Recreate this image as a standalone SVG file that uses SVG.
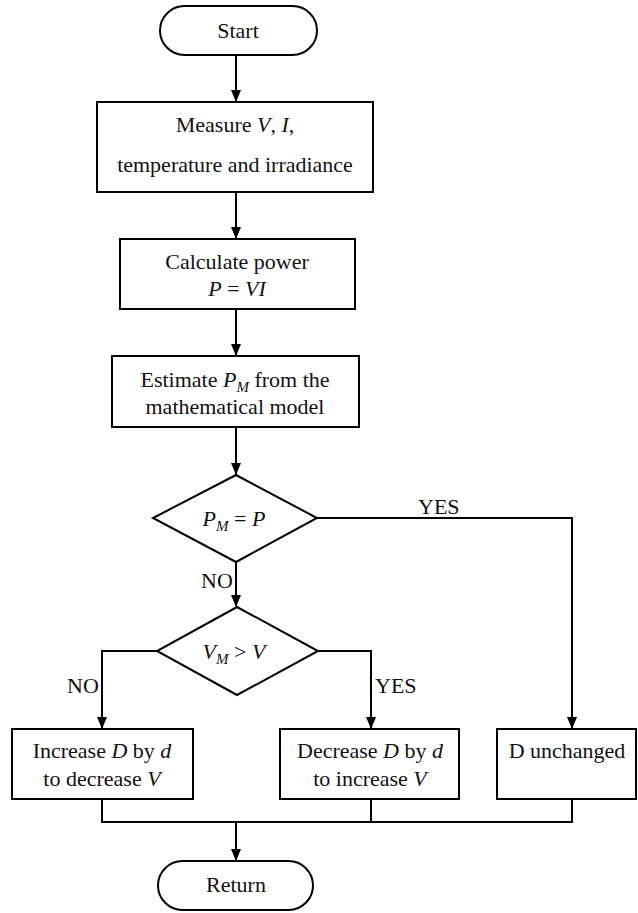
<svg xmlns="http://www.w3.org/2000/svg" width="638" height="913" viewBox="0 0 638 913">
<defs>
<marker id="ah" markerWidth="12" markerHeight="12" viewBox="0 0 12 12" refX="11" refY="6" orient="auto" markerUnits="userSpaceOnUse">
<path d="M0,1 L12,6 L0,11 Z" fill="#000"/>
</marker>
</defs>
<style>
.s{fill:#fff;stroke:#000;stroke-width:2}
.c{fill:none;stroke:#000;stroke-width:2}
text{font-family:'Liberation Serif','Times New Roman','DejaVu Serif',serif;font-size:22px;fill:#111}
.m{text-anchor:middle}
.i{font-style:italic}
.sub{font-style:italic;font-size:15px}
</style>
<rect width="638" height="913" fill="#fff"/>
<g id="connectors">
<path class="c" d="M236,55 V101" marker-end="url(#ah)"/>
<path class="c" d="M236,192 V238" marker-end="url(#ah)"/>
<path class="c" d="M236,309 V355" marker-end="url(#ah)"/>
<path class="c" d="M236,427 V474" marker-end="url(#ah)"/>
<path class="c" d="M236,562 V606" marker-end="url(#ah)"/>
<path class="c" d="M317,518 H572 V728" marker-end="url(#ah)"/>
<path class="c" d="M157,651 H102 V728" marker-end="url(#ah)"/>
<path class="c" d="M318,651 H371 V728" marker-end="url(#ah)"/>
<path class="c" d="M102,799 V822 H572 V799"/>
<path class="c" d="M371,799 V822"/>
<path class="c" d="M236,822 V860" marker-end="url(#ah)"/>
<text x="418" y="514" font-family="Liberation Serif, serif">YES</text>
<text x="201" y="588" font-family="Liberation Serif, serif">NO</text>
<text x="67" y="693" font-family="Liberation Serif, serif">NO</text>
<text x="375" y="693" font-family="Liberation Serif, serif">YES</text>
</g>
<g id="start" font-family="Liberation Serif, serif">
<rect class="s" x="160" y="6" width="157" height="49" rx="24.5"/>
<text class="m" x="238" y="38">Start</text>
</g>
<g id="measure">
<rect class="s" x="97" y="102" width="276" height="90"/>
<text class="m" x="235" y="132">Measure <tspan class="i">V</tspan>, <tspan class="i">I</tspan>,</text>
<text class="m" x="235" y="172">temperature and irradiance</text>
</g>
<g id="calculate">
<rect class="s" x="120" y="239" width="235" height="70"/>
<text class="m" x="237" y="269">Calculate power</text>
<text class="m" x="237" y="296"><tspan class="i">P</tspan> = <tspan class="i">VI</tspan></text>
</g>
<g id="estimate">
<rect class="s" x="112" y="356" width="247" height="71"/>
<text class="m" x="235" y="387">Estimate <tspan class="i">P</tspan><tspan class="sub" dy="5">M</tspan><tspan dy="-5"> from the</tspan></text>
<text class="m" x="235" y="414">mathematical model</text>
</g>
<g id="decision1">
<path class="s" d="M236,475 L317,518 L236,562 L153,518 Z"/>
<text class="m" x="234" y="526"><tspan class="i">P</tspan><tspan class="sub" dy="5">M</tspan><tspan dy="-5"> = </tspan><tspan class="i">P</tspan></text>
</g>
<g id="decision2">
<path class="s" d="M237,607 L318,651 L237,695 L157,651 Z"/>
<text class="m" x="234" y="659"><tspan class="i">V</tspan><tspan class="sub" dy="5">M</tspan><tspan dy="-5"> &gt; </tspan><tspan class="i">V</tspan></text>
</g>
<g id="increase">
<rect class="s" x="12" y="729" width="181" height="70"/>
<text class="m" x="102" y="758">Increase <tspan class="i">D</tspan> by <tspan class="i">d</tspan></text>
<text class="m" x="102" y="786">to decrease <tspan class="i">V</tspan></text>
</g>
<g id="decrease">
<rect class="s" x="280" y="729" width="179" height="70"/>
<text class="m" x="370" y="758">Decrease <tspan class="i">D</tspan> by <tspan class="i">d</tspan></text>
<text class="m" x="370" y="786">to increase <tspan class="i">V</tspan></text>
</g>
<g id="unchanged">
<rect class="s" x="497" y="729" width="139" height="70"/>
<text class="m" x="567" y="758">D unchanged</text>
</g>
<g id="return">
<rect class="s" x="158" y="861" width="155" height="49" rx="24.5"/>
<text class="m" x="236" y="892">Return</text>
</g>
</svg>
